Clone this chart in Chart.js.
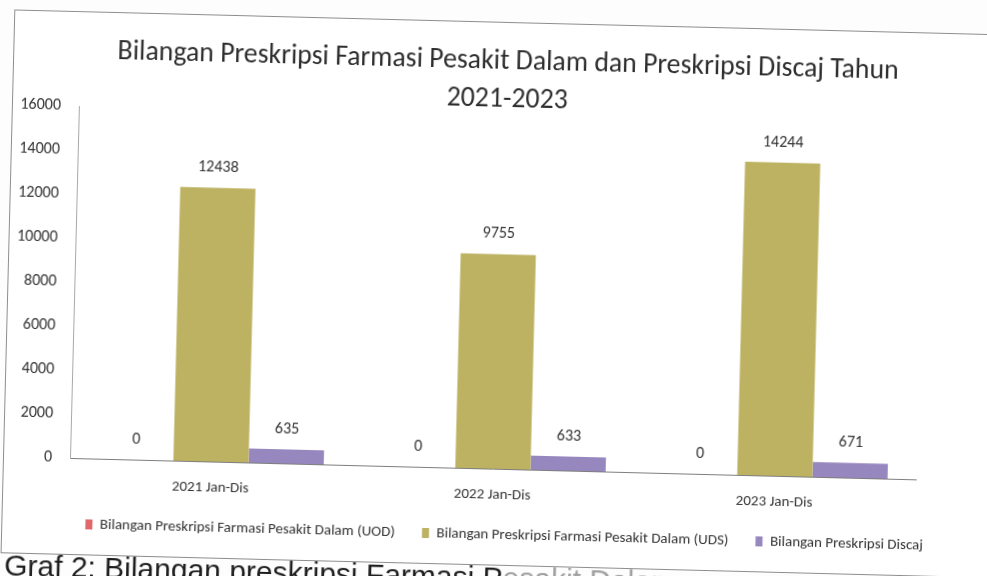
<!DOCTYPE html>
<html>
<head>
<meta charset="utf-8">
<script src="https://cdn.jsdelivr.net/npm/chart.js@4.4.0/dist/chart.umd.min.js"></script>
<style>
html,body{margin:0;padding:0;background:#fdfdfd;width:987px;height:576px;overflow:hidden;}
#wrap{position:absolute;left:0;top:0;width:987px;height:600px;transform:rotate(1.45deg);transform-origin:72px 458px;}
#box{position:absolute;left:3px;top:11px;width:1060px;height:542px;border:1.5px solid #8e8e8e;background:#fff;}
#cv{position:absolute;left:0;top:0;}
#cap{position:absolute;left:7px;top:552px;font-family:"Liberation Sans",Arial,sans-serif;font-size:30px;line-height:30px;color:#1e1e1e;white-space:nowrap;}
</style>
</head>
<body>
<div id="wrap">
  <div id="box"></div>
  <canvas id="cv" width="987" height="576"></canvas>
  <div id="cap">Graf 2: Bilangan preskripsi Farmasi P<span style="color:#a0a0a0">esakit Dalam</span></div>
</div>
<script>
const categories = ["2021 Jan-Dis", "2022 Jan-Dis", "2023 Jan-Dis"];
const seriesNames = [
  "Bilangan Preskripsi Farmasi Pesakit Dalam (UOD)",
  "Bilangan Preskripsi Farmasi Pesakit Dalam (UDS)",
  "Bilangan Preskripsi Discaj"
];
const uodValues = [0, 0, 0];
const udsValues = [12438, 9755, 14244];
const discajValues = [635, 633, 671];
const titleLines = ["Bilangan Preskripsi Farmasi Pesakit Dalam dan Preskripsi Discaj Tahun", "2021-2023"];
const yTicks = { min: 0, max: 16000, step: 2000 };

const FONT = 'Carlito, Calibri, "Open Sans", sans-serif';

const titlePlugin = {
  id: 'customTitle',
  afterDraw(chart) {
    const ctx = chart.ctx;
    ctx.save();
    ctx.fillStyle = '#2e2e2e';
    ctx.font = '27.8px ' + FONT;
    ctx.textAlign = 'center';
    ctx.textBaseline = 'alphabetic';
    ctx.fillText(titleLines[0], 498, 58);
    ctx.fillText(titleLines[1], 498, 96);
    ctx.restore();
  }
};

const valueLabels = {
  id: 'valueLabels',
  afterDatasetsDraw(chart) {
    const ctx = chart.ctx;
    ctx.save();
    ctx.fillStyle = '#333';
    ctx.font = '16px ' + FONT;
    ctx.textAlign = 'center';
    ctx.textBaseline = 'middle';
    chart.data.datasets.forEach((ds, i) => {
      chart.getDatasetMeta(i).data.forEach((el, j) => {
        ctx.fillText(String(ds.data[j]), el.x, el.y - 20);
      });
    });
    ctx.restore();
  }
};

const legendMover = {
  id: 'legendMover',
  afterLayout(chart) {
    const lg = chart.legend;
    if (!lg) return;
    const h = lg.bottom - lg.top;
    const cx = (lg.left + lg.right) / 2;
    const shift = 506 - cx;
    lg.left += shift; lg.right += shift;
    const pad = lg.options.labels.padding;
    const ih = Math.max(lg.options.labels.font.size || 15, lg.options.labels.boxHeight);
    lg.top = 524 - pad - ih / 2;
    lg.bottom = lg.top + h;
  }
};

new Chart(document.getElementById('cv'), {
  type: 'bar',
  data: {
    labels: categories,
    datasets: [
      { label: seriesNames[0], data: uodValues, backgroundColor: '#e0686b' },
      { label: seriesNames[1], data: udsValues, backgroundColor: '#bdb262' },
      { label: seriesNames[2], data: discajValues, backgroundColor: '#9787bf' }
    ]
  },
  options: {
    responsive: false,
    animation: false,
    layout: { padding: { top: 106, right: 71, bottom: 21, left: 0 } },
    datasets: { bar: { categoryPercentage: 0.8, barPercentage: 1.0 } },
    scales: {
      x: {
        grid: { display: false, drawTicks: false },
        border: { color: '#7e7e7e', width: 1 },
        ticks: { color: '#333', font: { family: FONT, size: 15 }, padding: 17 },
        afterFit(scale) { scale.height = 45; }
      },
      y: {
        min: yTicks.min, max: yTicks.max,
        grid: { display: false, drawTicks: false },
        border: { color: '#a8a8a8', width: 1 },
        ticks: {
          stepSize: yTicks.step, color: '#333', font: { family: FONT, size: 16 }, padding: 18,
          callback: (v) => String(v)
        },
        afterFit(scale) { scale.width = 70; }
      }
    },
    plugins: {
      legend: {
        position: 'bottom',
        labels: { boxWidth: 7, boxHeight: 10, color: '#333', font: { family: FONT, size: 15 }, padding: 27 }
      },
      title: { display: false },
      tooltip: { enabled: false }
    }
  },
  plugins: [titlePlugin, valueLabels, legendMover]
});
</script>
</body>
</html>
